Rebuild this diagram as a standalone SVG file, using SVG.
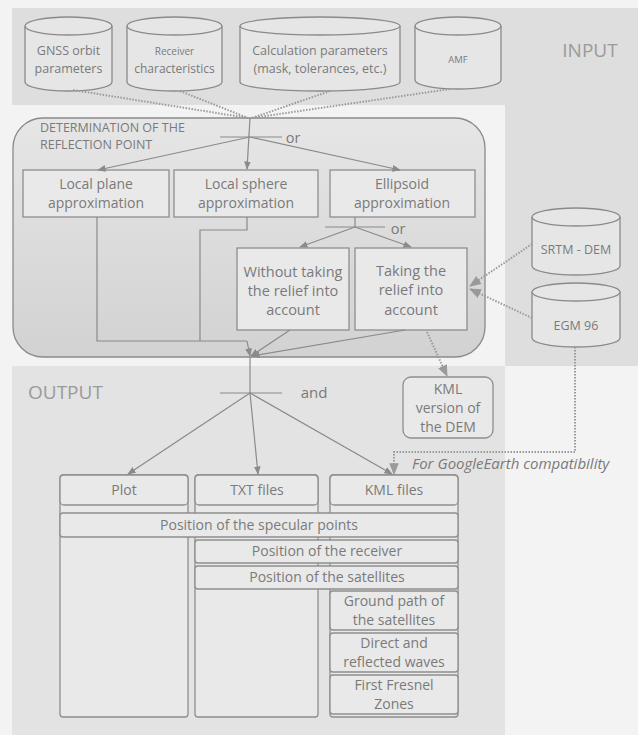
<svg xmlns="http://www.w3.org/2000/svg" width="638" height="735" viewBox="0 0 638 735">
<defs>
<style>
.t{font-family:"Open Sans","Liberation Sans",sans-serif;fill:#7a7a7a;text-anchor:middle}
.box{fill:#e9e9e9;stroke:#8e8e8e;stroke-width:1.3}
.cyl{fill:#e6e6e6;stroke:#8a8a8a;stroke-width:1.3}
.ln{fill:none;stroke:#8a8a8a;stroke-width:1.2}
.dot{fill:none;stroke:#9a9a9a;stroke-width:2;stroke-dasharray:1.5 1.5}
</style>
<linearGradient id="gDet" x1="0" y1="0" x2="0" y2="1">
<stop offset="0" stop-color="#e6e6e6"/>
<stop offset="1" stop-color="#d2d2d2"/>
</linearGradient>
<marker id="ar" viewBox="0 0 10 10" refX="9" refY="5" markerWidth="7" markerHeight="7" orient="auto-start-reverse">
<path d="M0,1 L10,5 L0,9 z" fill="#8a8a8a"/>
</marker>
<marker id="ard" viewBox="0 0 10 10" refX="9" refY="5" markerWidth="6" markerHeight="6" orient="auto-start-reverse">
<path d="M0,1 L10,5 L0,9 z" fill="#9a9a9a"/>
</marker>
</defs>
<rect x="0" y="0" width="638" height="735" fill="#f3f3f3"/>
<!-- panels -->
<g id="panels">
<rect x="12" y="8" width="626" height="97" fill="#dedede"/>
<rect x="505" y="8" width="133" height="358" fill="#dedede"/>
<rect x="12" y="366" width="493" height="369" fill="#e3e3e3"/>
<text class="t" x="590" y="57" font-size="19" style="fill:#9a9a9a">INPUT</text>
<text class="t" x="28" y="399" font-size="19" style="fill:#9a9a9a;text-anchor:start">OUTPUT</text>
</g>
<!-- inputs -->
<g id="gnss">
<path class="cyl" d="M25,26 V82 A43.5,9 0 0 0 112,82 V26"/>
<ellipse class="cyl" cx="68.5" cy="26" rx="43.5" ry="9"/>
<text class="t" x="68.5" y="55" font-size="12.5">GNSS orbit</text>
<text class="t" x="68.5" y="73" font-size="12.5">parameters</text>
</g>
<g id="receiver">
<path class="cyl" d="M127,26 V82 A47.5,9 0 0 0 222,82 V26"/>
<ellipse class="cyl" cx="174.5" cy="26" rx="47.5" ry="9"/>
<text class="t" x="174.5" y="55" font-size="10">Receiver</text>
<text class="t" x="174.5" y="73" font-size="12">characteristics</text>
</g>
<g id="calc">
<path class="cyl" d="M240,26 V82 A80,9 0 0 0 400,82 V26"/>
<ellipse class="cyl" cx="320" cy="26" rx="80" ry="9"/>
<text class="t" x="320" y="55" font-size="12.5">Calculation parameters</text>
<text class="t" x="320" y="73" font-size="12.5">(mask, tolerances, etc.)</text>
</g>
<g id="amf">
<path class="cyl" d="M415,26 V80 A43,9 0 0 0 501,80 V26"/>
<ellipse class="cyl" cx="458" cy="26" rx="43" ry="9"/>
<text class="t" x="458" y="63" font-size="9.5">AMF</text>
</g>
<!-- determination box -->
<g id="determination">
<rect x="13" y="118" width="472" height="239" rx="30" fill="url(#gDet)" stroke="#8a8a8a" stroke-width="1.3"/>
<text class="t" x="40" y="132" font-size="12.5" style="text-anchor:start">DETERMINATION OF THE</text>
<text class="t" x="40" y="149" font-size="12.5" style="text-anchor:start">REFLECTION POINT</text>
<text class="t" x="293" y="143" font-size="14.5">or</text>
<text class="t" x="398" y="234" font-size="14.5">or</text>
</g>
<g id="localplane">
<rect class="box" x="23" y="170" width="146" height="47"/>
<text class="t" x="96" y="189" font-size="14">Local plane</text>
<text class="t" x="96" y="208" font-size="14">approximation</text>
</g>
<g id="localsphere">
<rect class="box" x="174" y="170" width="144" height="47"/>
<text class="t" x="246" y="189" font-size="14">Local sphere</text>
<text class="t" x="246" y="208" font-size="14">approximation</text>
</g>
<g id="ellipsoid">
<rect class="box" x="330" y="170" width="145" height="47"/>
<text class="t" x="402" y="189" font-size="14">Ellipsoid</text>
<text class="t" x="402" y="208" font-size="14">approximation</text>
</g>
<g id="without">
<rect class="box" x="237" y="248" width="112" height="82"/>
<text class="t" x="293" y="277" font-size="14.5">Without taking</text>
<text class="t" x="293" y="296" font-size="14.5">the relief into</text>
<text class="t" x="293" y="315" font-size="14.5">account</text>
</g>
<g id="taking">
<rect class="box" x="355" y="248" width="112" height="82"/>
<text class="t" x="411" y="276" font-size="14.5">Taking the</text>
<text class="t" x="411" y="295" font-size="14.5">relief into</text>
<text class="t" x="411" y="315" font-size="14.5">account</text>
</g>
<g id="srtm">
<path class="cyl" d="M532,217 V266 A44,9 0 0 0 620,266 V217"/>
<ellipse class="cyl" cx="576" cy="217" rx="44" ry="9"/>
<text class="t" x="576" y="254" font-size="12.5">SRTM - DEM</text>
</g>
<g id="egm">
<path class="cyl" d="M532,292 V338 A44,9 0 0 0 620,338 V292"/>
<ellipse class="cyl" cx="576" cy="292" rx="44" ry="9"/>
<text class="t" x="576" y="330" font-size="12.5">EGM 96</text>
</g>
<g id="kmldem">
<rect class="box" x="403" y="377" width="90" height="61" rx="8"/>
<text class="t" x="448" y="394" font-size="14">KML</text>
<text class="t" x="448" y="413" font-size="14">version of</text>
<text class="t" x="448" y="432" font-size="14">the DEM</text>
</g>
<!-- outputs -->
<g id="columns">
<rect class="box" x="60" y="475" width="128" height="242" rx="3"/>
<rect class="box" x="195" y="475" width="123" height="242" rx="3"/>
<rect class="box" x="330" y="475" width="128" height="242" rx="3"/>
</g>
<g id="plot">
<rect class="box" x="60" y="475" width="128" height="30" rx="4"/>
<text class="t" x="124" y="495" font-size="14">Plot</text>
</g>
<g id="txt">
<rect class="box" x="195" y="475" width="123" height="30" rx="4"/>
<text class="t" x="257" y="495" font-size="14">TXT files</text>
</g>
<g id="kmlfiles">
<rect class="box" x="330" y="475" width="128" height="30" rx="4"/>
<text class="t" x="394" y="495" font-size="14">KML files</text>
</g>
<g id="specular">
<rect class="box" x="60" y="513" width="398" height="24" rx="3"/>
<text class="t" x="259" y="530" font-size="14">Position of the specular points</text>
</g>
<g id="posreceiver">
<rect class="box" x="195" y="540" width="263" height="23" rx="3"/>
<text class="t" x="327" y="556" font-size="14">Position of the receiver</text>
</g>
<g id="possat">
<rect class="box" x="195" y="566" width="263" height="23" rx="3"/>
<text class="t" x="327" y="582" font-size="14">Position of the satellites</text>
</g>
<g id="groundpath">
<rect class="box" x="330" y="591" width="128" height="39" rx="3"/>
<text class="t" x="394" y="606" font-size="14">Ground path of</text>
<text class="t" x="394" y="625" font-size="14">the satellites</text>
</g>
<g id="direct">
<rect class="box" x="330" y="633" width="128" height="39" rx="3"/>
<text class="t" x="394" y="648" font-size="14">Direct and</text>
<text class="t" x="394" y="667" font-size="14">reflected waves</text>
</g>
<g id="fresnel">
<rect class="box" x="330" y="675" width="128" height="39" rx="3"/>
<text class="t" x="394" y="690" font-size="14">First Fresnel</text>
<text class="t" x="394" y="709" font-size="14">Zones</text>
</g>
<text class="t" x="412" y="469" font-size="15" font-style="italic" style="text-anchor:start">For GoogleEarth compatibility</text>
<!-- connectors -->
<g id="connectors">
<path class="dot" d="M73,90 L248,118"/>
<path class="dot" d="M180,91 L248,118"/>
<path class="dot" d="M330,91 L252,118"/>
<path class="dot" d="M450,89 L252,118"/>
<path class="ln" d="M250,118 L247,169" marker-end="url(#ar)"/>
<path class="ln" d="M220,137 H282"/>
<path class="ln" d="M250,137 L98,170" marker-end="url(#ar)"/>
<path class="ln" d="M250,137 L400,170" marker-end="url(#ar)"/>
<path class="ln" d="M355,217 V227"/>
<path class="ln" d="M325,227 H385"/>
<path class="ln" d="M355,227 L300,247" marker-end="url(#ar)"/>
<path class="ln" d="M355,227 L411,247" marker-end="url(#ar)"/>
<path class="ln" d="M97,217 V341 H247"/>
<path class="ln" d="M247,217 V230 H200 V341"/>
<path class="ln" d="M247,341 L250,356" marker-end="url(#ar)"/>
<path class="ln" d="M290,330 L251,356" marker-end="url(#ar)"/>
<path class="ln" d="M405,330 L252,356" marker-end="url(#ar)"/>
<path class="ln" d="M250,357 V393"/>
<path class="ln" d="M220,393 H282"/>
<text class="t" x="314" y="398" font-size="15">and</text>
<path class="ln" d="M250,393 L128,474" marker-end="url(#ar)"/>
<path class="ln" d="M250,393 L258,474" marker-end="url(#ar)"/>
<path class="ln" d="M250,393 L392,474" marker-end="url(#ar)"/>
<path class="dot" d="M532,244 L470,286" marker-end="url(#ard)"/>
<path class="dot" d="M532,318 L470,289" marker-end="url(#ard)"/>
<path class="dot" d="M427,332 L447,376" marker-end="url(#ard)"/>
<path class="dot" d="M575,347 V452 H394 V474" marker-end="url(#ard)"/>
</g>
</svg>
